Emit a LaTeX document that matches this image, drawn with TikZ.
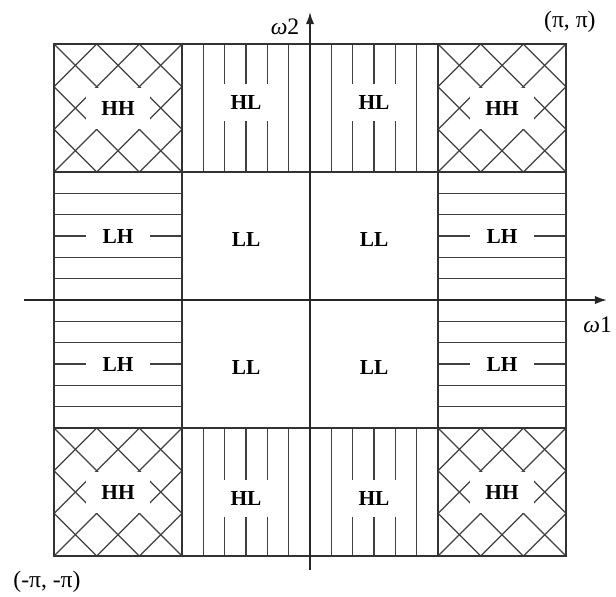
\documentclass[tikz,border=0pt]{standalone}
\usepackage{fontspec}
\setmainfont{Liberation Serif}
\usetikzlibrary{arrows.meta}
\tikzset{
  cellframe/.style={line width=0.7pt, draw=black!80},
  hatch/.style={line width=0.55pt, draw=black!75},
  band/.style={font=\fontsize{9.5}{11}\selectfont\bfseries, fill=white, inner sep=0pt,
               minimum width=1cm, minimum height=0.58cm},
  axis/.style={line width=0.7pt, draw=black!85, -{Latex[length=1.9mm,width=1.3mm]}},
  corner/.style={font=\fontsize{10.5}{12}\selectfont, inner sep=1pt}
}
% cross hatch in the 2x2 cell with lower left corner (#1,#2)
\newcommand{\hhcell}[2]{
  \begin{scope}[shift={(#1,#2)}]
    \clip (0,0) rectangle (2,2);
    \foreach \k in {-2,...,2} {
      \draw[hatch] (\k*2/3-1,-1) -- ++(4,4);
      \draw[hatch] (\k*2/3+3,-1) -- ++(-4,4);
    }
  \end{scope}}
% vertical lines
\newcommand{\hlcell}[2]{\foreach \k in {1,...,5} \draw[hatch] (#1+\k/3,#2) -- ++(0,2);}
% horizontal lines
\newcommand{\lhcell}[2]{\foreach \k in {1,...,5} \draw[hatch] (#1,#2+\k/3) -- ++(2,0);}

\begin{document}
\begin{tikzpicture}
  \useasboundingbox (-4.844,-4.625) rectangle (4.781,4.688);
  % corners
  \hhcell{-4}{2}
  \hhcell{2}{2}
  \hhcell{-4}{-4}
  \hhcell{2}{-4}
  % top and bottom
  \hlcell{-2}{2}
  \hlcell{0}{2}
  \hlcell{-2}{-4}
  \hlcell{0}{-4}
  % left and right
  \lhcell{-4}{0}
  \lhcell{-4}{-2}
  \lhcell{2}{0}
  \lhcell{2}{-2}
  % cell borders
  \draw[cellframe] (-4,-4) rectangle (4,4);
  \draw[cellframe] (-2,-4) -- (-2,4);
  \draw[cellframe] (2,-4) -- (2,4);
  \draw[cellframe] (-4,-2) -- (4,-2);
  \draw[cellframe] (-4,2) -- (4,2);
  % axes
  \coordinate (xend) at (4.64,0);
  \coordinate (yend) at (0,4.5);
  \draw[axis] (-4.47,0) -- (xend);
  \draw[axis] (0,-4.22) -- (yend);
  \node[corner] (w2) at (-0.39,4.27) {{\itshape ω}2};
  \node[corner, anchor=east] (w1) at (4.76,-0.39) {{\itshape ω}1};
  \node[corner] (pp) at (4.06,4.34) {(π, π)};
  \node[corner] (mm) at (-4.11,-4.41) {(-π, -π)};
  % band labels
  \node[band, minimum height=0.64cm] (hh1) at (-3,3) {HH};
  \node[band, minimum height=0.64cm] (hh2) at (3,3) {HH};
  \node[band, minimum height=0.64cm] (hh3) at (-3,-3) {HH};
  \node[band, minimum height=0.64cm] (hh4) at (3,-3) {HH};
  \node[band] (hl1) at (-1,3.08) {HL};
  \node[band] (hl2) at (1,3.08) {HL};
  \node[band] (hl3) at (-1,-3.1) {HL};
  \node[band] (hl4) at (1,-3.1) {HL};
  \node[band] (lh1) at (-3,1) {LH};
  \node[band] (lh2) at (-3,-1) {LH};
  \node[band] (lh3) at (3,1) {LH};
  \node[band] (lh4) at (3,-1) {LH};
  \node[band] (ll1) at (-1,0.95) {LL};
  \node[band] (ll2) at (1,0.95) {LL};
  \node[band] (ll3) at (-1,-1.06) {LL};
  \node[band] (ll4) at (1,-1.06) {LL};
\end{tikzpicture}
\end{document}
